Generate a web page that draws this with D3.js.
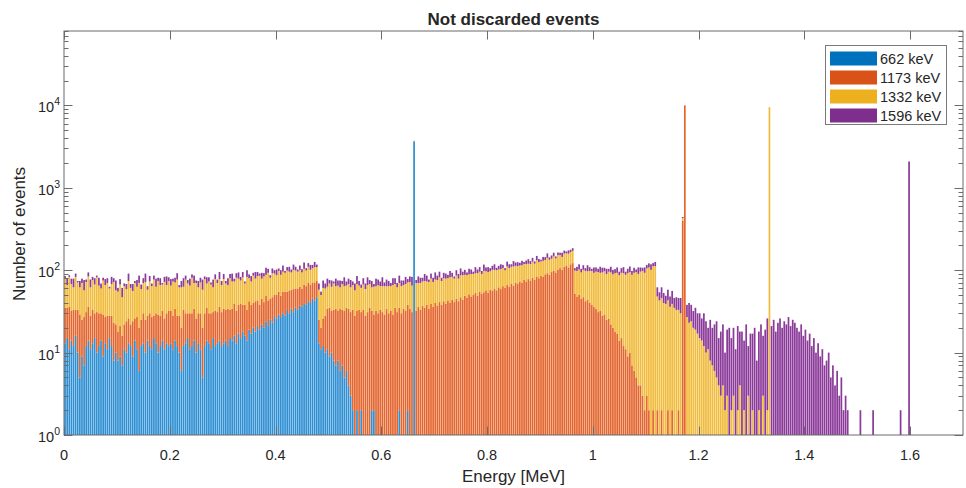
<!DOCTYPE html>
<html><head><meta charset="utf-8">
<script src="https://cdn.jsdelivr.net/npm/d3@7/dist/d3.min.js"></script>
<style>body{margin:0;background:#fff}svg{display:block}text{font-family:"Liberation Sans",Arial,Helvetica,sans-serif}</style>
</head><body><svg id="chart" width="966" height="488"></svg>
<script>
// ---------------- DATA ----------------
const binWidth = 0.004; // MeV
const seriesNames = ["662 keV", "1173 keV", "1332 keV", "1596 keV"];

// continuum counts per bin, starting at 0 MeV
const blueCounts = [
  13,15,11,14,12,16,10,5,9,7,12,14,11,13,15,10,12,14,9,13,11,15,12,8,10,
  8,9,7,11,10,13,12,9,14,11,6,12,13,10,14,12,11,15,13,10,12,14,11,13,12,
  13,11,14,12,10,6,12,13,15,11,12,14,10,13,11,5,12,14,13,11,15,12,13,14,12,
  13,14,12,15,14,16,13,17,15,18,16,14,19,17,20,18,21,19,22,20,24,21,25,23,27,
  26,29,27,30,28,32,30,34,31,35,33,37,36,39,38,42,40,45,43,47,
  13,11,12,10,11,9,10,8,7,8,6,7,5,6,4,
  3,2,1,2,0,2,1,0,0,1,2,2,0,1,0,0,1,0,0,0,0,0,0,2,0,0,0,2,1,0
];
const orangeCounts = [
  22,20,25,18,21,17,23,24,16,20,19,22,17,20,15,21,18,16,20,14,17,13,16,15,12,
  10,12,9,11,14,13,10,15,12,16,14,13,17,15,14,18,16,13,17,19,16,18,15,17,20,
  19,17,20,16,18,14,21,17,15,19,18,20,16,17,19,15,18,21,17,19,16,20,18,22,19,
  21,19,22,18,20,23,19,21,24,20,22,19,23,21,20,24,22,19,23,21,25,22,20,24,23,
  24,26,22,25,27,23,26,24,28,25,27,26,24,28,26,29,27,25,28,27,
  12,9,14,18,23,26,22,25,27,24,28,26,27,29,30,
  28,31,27,30,33,29,32,28,31,34,30,27,32,29,33,31,28,34,30,32,29,35,31,33,30,34,32,36,33,31,
  34,32,36,33,37,35,38,34,39,36,40,37,41,38,42,39,43,40,44,41,
  45,42,47,44,49,46,51,48,50,53,49,55,52,54,57,53,58,56,60,57,
  62,59,64,61,66,63,69,65,71,68,73,70,76,72,78,75,81,77,84,80,
  86,83,89,92,88,95,99,94,102,106,101,110,114,108,118,122,
  52,48,50,45,47,42,44,40,38,36,
  34,31,32,28,29,25,26,22,20,18,
  17,14,15,12,11,9,10,7,6,5,
  4,4,3,2,3,2,
  1,2,0,2,1,2,0,1,2,0,2,1,0,2,1
];
const yellowCounts = [
  44,31,47,36,29,50,38,33,45,30,41,48,34,43,37,51,35,30,46,39,42,32,40,49,35,
  37,46,31,42,35,48,39,32,44,36,50,34,40,47,30,43,37,49,33,45,38,35,46,36,42,
  33,45,37,49,34,42,30,47,39,35,51,36,44,32,41,38,48,34,43,37,31,46,39,42,35,
  44,36,32,47,39,34,49,41,36,44,31,50,38,35,46,37,42,48,34,43,39,50,36,45,41,
  37,43,39,41,38,44,40,36,42,39,36,38,34,37,35,39,34,36,38,35,
  33,30,35,32,29,34,31,36,30,33,28,35,32,30,34,31,33,29,36,32,30,34,31,35,33,
  30,34,32,36,31,33,35,30,34,32,37,33,31,35,34,32,36,33,38,34,
  35,38,34,37,36,39,35,38,40,36,37,39,41,36,38,40,37,42,39,38,41,37,40,43,39,
  41,38,42,40,39,43,41,38,44,40,42,39,45,41,43,40,44,42,39,45,43,41,46,42,44,
  41,45,43,47,42,44,46,43,48,45,42,47,44,49,46,43,48,45,50,47,44,49,46,51,48,50,
  47,50,52,49,54,56,53,58,60,57,62,64,61,66,68,65,70,72,69,74,
  76,73,78,80,77,83,85,81,87,90,86,92,95,91,102,106,100,110,112,
  46,42,44,40,38,41,36,37,34,33,
  31,29,30,26,27,23,24,20,19,17,
  15,14,12,10,11,8,7,6,5,4,
  3,4,2,3,0,2,3,1,2,4,0,2,1,3,0,2,0,1,2,0,3,0,2
];
const purpleCounts = [
  6,14,4,11,17,8,3,12,9,19,5,10,15,7,13,4,16,9,6,12,
  10,3,15,8,18,6,11,14,5,9,17,7,12,4,13,16,8,10,19,6,
  12,5,9,16,7,14,3,11,18,8,13,6,10,15,4,12,17,9,7,14,
  8,16,5,12,10,19,6,13,9,4,15,11,7,17,8,12,5,14,10,18,
  6,11,15,8,13,4,17,9,12,7,16,10,5,14,8,19,11,6,13,9,
  15,7,12,18,5,10,14,8,16,11,6,13,9,20,7,12,15,10,17,8,
  11,5,14,9,16,7,12,4,15,10,13,6,18,8,11,14,7,12,17,9,
  6,13,10,16,8,12,5,15,11,9,18,7,13,10,6,14,12,8,16,11,
  9,15,7,12,18,10,6,14,11,8,16,13,5,12,9,17,10,14,7,13,
  12,8,16,10,5,14,11,18,9,13,7,15,12,6,17,10,13,8,19,11,
  14,9,12,17,7,11,15,10,6,16,12,8,18,11,13,9,15,7,12,16,
  10,14,8,17,12,6,15,11,19,9,13,16,8,12,10,18,14,9,15,11,
  13,7,12,16,10,14,8,18,11,6,15,12,9,17,13,10,14,8,16,12,
  11,15,9,13,17,8,12,16,10,14,7,18,12,9,15,11,13,17,10,14,
  14,11,16,13,10,15,12,17,11,14,13,16,12,15,11,17,14,12,16,13,
  15,12,18,14,9,17,13,16,19,11,15,18,8,16,20,13,17,10,19,14,
  18,12,21,9,17,15,20,7,16,22,13,19,24,17,21,25,18,23,26,20,
  24,22,27,21,25,23,20,18,22,16,
  19,14,17,12,15,10,13,9,11,7,
  8,10,5,7,4,6,3,5,2,3,
  2,0,1,0,0,0,2,0,0,0,1,0,2,0,0,0,0,0,1,0,0,0,0,0,0,2,0,0,0
];
// full-energy peaks
const peakEnergy = [0.662, 1.170, 1.173, 1.333, 1.598];
const peakCount  = [3650, 400, 10000, 9500, 2090];
const peakSeries = [0, 1, 1, 2, 3];

const xTickValues = [0, 0.2, 0.4, 0.6, 0.8, 1, 1.2, 1.4, 1.6];
const xTickLabels = ["0", "0.2", "0.4", "0.6", "0.8", "1", "1.2", "1.4", "1.6"];
const yTickExponents = [0, 1, 2, 3, 4];

// ---------------- BUILD ----------------
const barColors = ["#2f8fd3", "#e4662f", "#f1bb3b", "#8b3a9a"];
const legendColors = ["#0072BD", "#D95319", "#EDB120", "#7E2F8E"];
const series = [blueCounts, orangeCounts, yellowCounts, purpleCounts].map(a => a.slice());
peakEnergy.forEach((e, k) => {
  const b = Math.floor(e / binWidth + 1e-9);
  const s = series[peakSeries[k]];
  while (s.length <= b) s.push(0);
  s[b] = (s[b] || 0) + peakCount[k];
});
const nBins = d3.max(series, s => s.length);
const keys = ["s0", "s1", "s2", "s3"];
const rows = d3.range(nBins).map(i => {
  const r = { x0: i * binWidth };
  series.forEach((s, j) => r[keys[j]] = s[i] || 0);
  return r;
});
const stacked = d3.stack().keys(keys)(rows);

const L = 64, R = 963, T = 31, B = 435;
const x = d3.scaleLinear().domain([0, 1.7]).range([L, R]);
const y = d3.scaleLog().domain([1, 8e4]).range([B, T]);

const svg = d3.select("#chart");
svg.append("defs").append("clipPath").attr("id", "clip")
  .append("rect").attr("x", L).attr("y", T).attr("width", R - L).attr("height", B - T);

const bwPx = x(binWidth) - x(0);
const g = svg.append("g").attr("clip-path", "url(#clip)");
stacked.forEach((layer, j) => {
  g.append("g").attr("fill", barColors[j])
    .selectAll("rect")
    .data(layer.filter(d => d[1] > 1 && d[1] > d[0]))
    .join("rect")
    .attr("x", d => x(d.data.x0) + 0.2)
    .attr("width", bwPx - 0.4)
    .attr("y", d => y(d[1]))
    .attr("height", d => y(Math.max(d[0], 1)) - y(d[1]));
});

// axes
const axisColor = "#6b6b6b";
const ax = svg.append("g").attr("stroke", axisColor).attr("fill", "none").attr("stroke-width", 1);
ax.append("rect").attr("x", L).attr("y", T).attr("width", R - L).attr("height", B - T);
const majLen = 8.5, minLen = 4.5;
xTickValues.forEach(v => {
  const px = Math.round(x(v)) + 0.5;
  ax.append("line").attr("x1", px).attr("x2", px).attr("y1", B).attr("y2", B - majLen);
  ax.append("line").attr("x1", px).attr("x2", px).attr("y1", T).attr("y2", T + majLen);
});
yTickExponents.forEach(e => {
  for (let m = 1; m <= 9; m++) {
    const v = m * Math.pow(10, e);
    if (v > 8e4) continue;
    const py = Math.round(y(v)) + 0.5;
    const len = m === 1 ? majLen : minLen;
    ax.append("line").attr("x1", L).attr("x2", L + len).attr("y1", py).attr("y2", py);
    ax.append("line").attr("x1", R).attr("x2", R - len).attr("y1", py).attr("y2", py);
  }
});

// tick labels
const txt = svg.append("g").attr("fill", "#262626");
xTickValues.forEach((v, i) => {
  txt.append("text").attr("x", x(v)).attr("y", 460).attr("text-anchor", "middle")
    .attr("font-size", "14.5px").text(xTickLabels[i]);
});
yTickExponents.forEach(e => {
  const t = txt.append("text").attr("x", 60).attr("y", y(Math.pow(10, e)) + 7)
    .attr("text-anchor", "end").attr("font-size", "14.5px");
  t.append("tspan").text("10");
  t.append("tspan").attr("dy", -7).attr("font-size", "10.5px").text(String(e));
});

// titles
txt.append("text").attr("x", (L + R) / 2).attr("y", 25).attr("text-anchor", "middle")
  .attr("font-size", "17px").attr("font-weight", "bold").text("Not discarded events");
txt.append("text").attr("x", (L + R) / 2).attr("y", 482).attr("text-anchor", "middle")
  .attr("font-size", "17px").text("Energy [MeV]");
txt.append("text").attr("transform", "translate(25,234) rotate(-90)").attr("text-anchor", "middle")
  .attr("font-size", "17px").text("Number of events");

// legend
const lg = svg.append("g");
lg.append("rect").attr("x", 825.5).attr("y", 45.5).attr("width", 121).attr("height", 79)
  .attr("fill", "#fff").attr("stroke", "#7a7a7a");
seriesNames.forEach((n, i) => {
  const cy = 58.5 + i * 19;
  lg.append("rect").attr("x", 830).attr("y", cy - 7).attr("width", 47).attr("height", 14)
    .attr("fill", legendColors[i]);
  lg.append("text").attr("x", 880).attr("y", cy + 5.5).attr("font-size", "14.5px")
    .attr("fill", "#262626").text(n);
});
</script>
</body></html>
